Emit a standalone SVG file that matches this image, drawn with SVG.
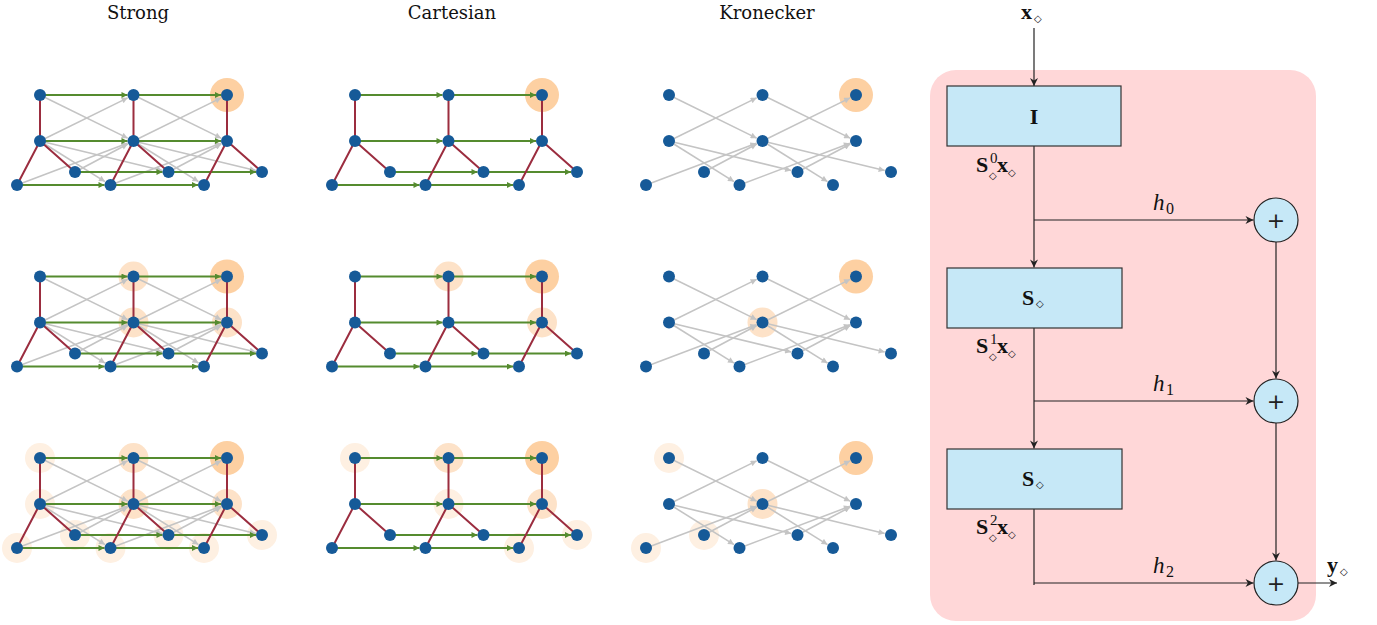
<svg xmlns="http://www.w3.org/2000/svg" xmlns:xlink="http://www.w3.org/1999/xlink" width="1377" height="625" viewBox="0 0 1377 625">
<style>
.title{font-family:"DejaVu Serif","Liberation Serif",serif;font-size:18px;fill:#111;text-anchor:middle}
.eg{stroke:#c4c4c4;stroke-width:1.6;fill:none;marker-end:url(#mGray)}
.egr{stroke:#558b2f;stroke-width:2;fill:none;marker-end:url(#mGreen)}
.er{stroke:#9b2d3f;stroke-width:2;fill:none}
.nd{fill:#165a98}
.h0{fill:#fdd0a2}
.h1{fill:#fde2c8}
.h2{fill:#fef0e2}
.blk{fill:#c6e8f7;stroke:#333;stroke-width:1.2}
.sum{fill:#c6e8f7;stroke:#222;stroke-width:1.2}
.ln{stroke:#222;stroke-width:1.2;fill:none}
.lna{stroke:#222;stroke-width:1.2;fill:none;marker-end:url(#mBlack)}
.m{font-family:"Liberation Serif",serif;font-weight:bold;font-size:22px;fill:#111}
.sup{font-family:"Liberation Serif",serif;font-weight:normal;font-size:15px}
.dia{font-family:"DejaVu Sans",sans-serif;font-weight:normal;font-size:10px}
.hi{font-family:"Liberation Serif",serif;font-style:italic;font-size:23px;fill:#111}
.hs{font-family:"Liberation Serif",serif;font-style:normal;font-size:16px;fill:#111}
.plus{font-family:"DejaVu Sans",sans-serif;font-size:22px;fill:#222;text-anchor:middle}
</style>
<defs>
<marker id="mGray" viewBox="0 0 10 10" refX="10" refY="5" markerWidth="8" markerHeight="6" markerUnits="userSpaceOnUse" orient="auto"><path d="M0,0 L10,5 L0,10 z" fill="#c4c4c4"/></marker>
<marker id="mGreen" viewBox="0 0 10 10" refX="10" refY="5" markerWidth="9" markerHeight="6" markerUnits="userSpaceOnUse" orient="auto"><path d="M0,0 L10,5 L0,10 z" fill="#558b2f"/></marker>
<marker id="mBlack" viewBox="0 0 10 10" refX="10" refY="5" markerWidth="9" markerHeight="8" markerUnits="userSpaceOnUse" orient="auto"><path d="M0,0 L10,5 L0,10 L3,5 z" fill="#222"/></marker>
<g id="gGray">
<path class="eg" d="M0,0 L87.67,43.13"/>
<path class="eg" d="M0,46 L87.67,2.87"/>
<path class="eg" d="M0,46 L122.18,75.48"/>
<path class="eg" d="M0,46 L64.99,86.56"/>
<path class="eg" d="M35,77 L87.76,49.04"/>
<path class="eg" d="M-23,90 L87.42,48.3"/>
<path class="eg" d="M93.5,0 L181.17,43.13"/>
<path class="eg" d="M93.5,46 L181.17,2.87"/>
<path class="eg" d="M93.5,46 L215.68,75.48"/>
<path class="eg" d="M93.5,46 L158.49,86.56"/>
<path class="eg" d="M128.5,77 L181.26,49.04"/>
<path class="eg" d="M70.5,90 L180.92,48.3"/>
</g>
<g id="gGreen">
<path class="egr" d="M0,0 L87.5,0"/>
<path class="egr" d="M0,46 L87.5,46"/>
<path class="egr" d="M35,77 L122.5,77"/>
<path class="egr" d="M-23,90 L64.5,90"/>
<path class="egr" d="M93.5,0 L181,0"/>
<path class="egr" d="M93.5,46 L181,46"/>
<path class="egr" d="M128.5,77 L216,77"/>
<path class="egr" d="M70.5,90 L158,90"/>
</g>
<g id="gRed">
<path class="er" d="M0,0 L0,46 M0,46 L35,77 M0,46 L-23,90"/>
<path class="er" d="M93.5,0 L93.5,46 M93.5,46 L128.5,77 M93.5,46 L70.5,90"/>
<path class="er" d="M187,0 L187,46 M187,46 L222,77 M187,46 L164,90"/>
</g>
<g id="gNodes">
<circle class="nd" cx="0" cy="0" r="6"/>
<circle class="nd" cx="0" cy="46" r="6"/>
<circle class="nd" cx="35" cy="77" r="6"/>
<circle class="nd" cx="-23" cy="90" r="6"/>
<circle class="nd" cx="93.5" cy="0" r="6"/>
<circle class="nd" cx="93.5" cy="46" r="6"/>
<circle class="nd" cx="128.5" cy="77" r="6"/>
<circle class="nd" cx="70.5" cy="90" r="6"/>
<circle class="nd" cx="187" cy="0" r="6"/>
<circle class="nd" cx="187" cy="46" r="6"/>
<circle class="nd" cx="222" cy="77" r="6"/>
<circle class="nd" cx="164" cy="90" r="6"/>
</g>
</defs>
<rect width="1377" height="625" fill="#fff"/>
<g id="titles">
<text class="title" x="138" y="19">Strong</text>
<text class="title" x="452" y="19">Cartesian</text>
<text class="title" x="767" y="19">Kronecker</text>
</g>
<!-- Strong -->
<g id="strong-r1" transform="translate(40,95)">
<circle class="h0" cx="187" cy="0" r="17"/>
<use href="#gGray"/><use href="#gGreen"/><use href="#gRed"/><use href="#gNodes"/>
</g>
<g id="strong-r2" transform="translate(40,276.5)">
<circle class="h1" cx="93.5" cy="0" r="15"/><circle class="h1" cx="93.5" cy="46" r="15"/><circle class="h1" cx="187" cy="46" r="15"/>
<circle class="h0" cx="187" cy="0" r="17"/>
<use href="#gGray"/><use href="#gGreen"/><use href="#gRed"/><use href="#gNodes"/>
</g>
<g id="strong-r3" transform="translate(40,458)">
<circle class="h2" cx="0" cy="0" r="15"/><circle class="h2" cx="0" cy="46" r="15"/><circle class="h2" cx="35" cy="77" r="15"/><circle class="h2" cx="-23" cy="90" r="15"/>
<circle class="h2" cx="128.5" cy="77" r="15"/><circle class="h2" cx="70.5" cy="90" r="15"/><circle class="h2" cx="222" cy="77" r="15"/><circle class="h2" cx="164" cy="90" r="15"/>
<circle class="h1" cx="93.5" cy="0" r="15"/><circle class="h1" cx="93.5" cy="46" r="15"/><circle class="h1" cx="187" cy="46" r="15"/>
<circle class="h0" cx="187" cy="0" r="17"/>
<use href="#gGray"/><use href="#gGreen"/><use href="#gRed"/><use href="#gNodes"/>
</g>
<!-- Cartesian -->
<g id="cart-r1" transform="translate(355,95)">
<circle class="h0" cx="187" cy="0" r="17"/>
<use href="#gGreen"/><use href="#gRed"/><use href="#gNodes"/>
</g>
<g id="cart-r2" transform="translate(355,276.5)">
<circle class="h1" cx="93.5" cy="0" r="15"/><circle class="h1" cx="187" cy="46" r="15"/>
<circle class="h0" cx="187" cy="0" r="17"/>
<use href="#gGreen"/><use href="#gRed"/><use href="#gNodes"/>
</g>
<g id="cart-r3" transform="translate(355,458)">
<circle class="h2" cx="0" cy="0" r="15"/><circle class="h2" cx="93.5" cy="46" r="15"/><circle class="h2" cx="222" cy="77" r="15"/><circle class="h2" cx="164" cy="90" r="15"/>
<circle class="h1" cx="93.5" cy="0" r="15"/><circle class="h1" cx="187" cy="46" r="15"/>
<circle class="h0" cx="187" cy="0" r="17"/>
<use href="#gGreen"/><use href="#gRed"/><use href="#gNodes"/>
</g>
<!-- Kronecker -->
<g id="kron-r1" transform="translate(669,95)">
<circle class="h0" cx="187" cy="0" r="17"/>
<use href="#gGray"/><use href="#gNodes"/>
</g>
<g id="kron-r2" transform="translate(669,276.5)">
<circle class="h1" cx="93.5" cy="46" r="15"/>
<circle class="h0" cx="187" cy="0" r="17"/>
<use href="#gGray"/><use href="#gNodes"/>
</g>
<g id="kron-r3" transform="translate(669,458)">
<circle class="h2" cx="0" cy="0" r="15"/><circle class="h2" cx="35" cy="77" r="15"/><circle class="h2" cx="-23" cy="90" r="15"/>
<circle class="h1" cx="93.5" cy="46" r="15"/>
<circle class="h0" cx="187" cy="0" r="17"/>
<use href="#gGray"/><use href="#gNodes"/>
</g>
<!-- Filter diagram -->
<rect id="panel" x="930" y="70" width="386" height="551" rx="26" fill="#ffd7d8"/>
<g id="connectors">
<path class="lna" d="M1034,28 L1034,86"/>
<path class="lna" d="M1034,146 L1034,267.5"/>
<path class="lna" d="M1034,328 L1034,448.5"/>
<path class="ln" d="M1034,509 L1034,585"/>
<path class="lna" d="M1034,220 L1253.5,220"/>
<path class="lna" d="M1034,401 L1253.5,401"/>
<path class="lna" d="M1034,583 L1253.5,583"/>
<path class="lna" d="M1276,242 L1276,378.5"/>
<path class="lna" d="M1276,423 L1276,560.5"/>
<path class="lna" d="M1298,583 L1337,583"/>
</g>
<g id="input-label">
<text class="m"><tspan x="1021" y="19">x</tspan><tspan class="dia" x="1034" y="22">◇</tspan></text>
</g>
<g id="box-I">
<rect class="blk" x="947" y="86" width="174" height="60"/>
<text class="m" x="1034" y="124" text-anchor="middle">I</text>
</g>
<g id="box-S1">
<rect class="blk" x="947" y="268" width="175" height="60"/>
<text class="m"><tspan x="1022" y="305">S</tspan><tspan class="dia" x="1036" y="307">◇</tspan></text>
</g>
<g id="box-S2">
<rect class="blk" x="947" y="449" width="175" height="60"/>
<text class="m"><tspan x="1022" y="486">S</tspan><tspan class="dia" x="1036" y="488">◇</tspan></text>
</g>
<g id="signal-labels">
<text class="m"><tspan x="976" y="172">S</tspan><tspan class="sup" x="990" y="163">0</tspan><tspan class="dia" x="989" y="179">◇</tspan><tspan x="997" y="172">x</tspan><tspan class="dia" x="1008" y="176">◇</tspan></text>
<text class="m"><tspan x="976" y="353">S</tspan><tspan class="sup" x="990" y="344">1</tspan><tspan class="dia" x="989" y="360">◇</tspan><tspan x="997" y="353">x</tspan><tspan class="dia" x="1008" y="357">◇</tspan></text>
<text class="m"><tspan x="976" y="534">S</tspan><tspan class="sup" x="990" y="525">2</tspan><tspan class="dia" x="989" y="541">◇</tspan><tspan x="997" y="534">x</tspan><tspan class="dia" x="1008" y="538">◇</tspan></text>
</g>
<g id="tap-labels">
<text class="hi" x="1153" y="210">h<tspan class="hs" x="1166" y="214">0</tspan></text>
<text class="hi" x="1153" y="391">h<tspan class="hs" x="1166" y="395">1</tspan></text>
<text class="hi" x="1153" y="573">h<tspan class="hs" x="1166" y="577">2</tspan></text>
</g>
<g id="sum-0"><circle class="sum" cx="1276" cy="220" r="22"/><text class="plus" x="1276" y="228">+</text></g>
<g id="sum-1"><circle class="sum" cx="1276" cy="401" r="22"/><text class="plus" x="1276" y="409">+</text></g>
<g id="sum-2"><circle class="sum" cx="1276" cy="583" r="22"/><text class="plus" x="1276" y="591">+</text></g>
<g id="output-label">
<text class="m"><tspan x="1327" y="572">y</tspan><tspan class="dia" x="1340" y="575">◇</tspan></text>
</g>
</svg>
